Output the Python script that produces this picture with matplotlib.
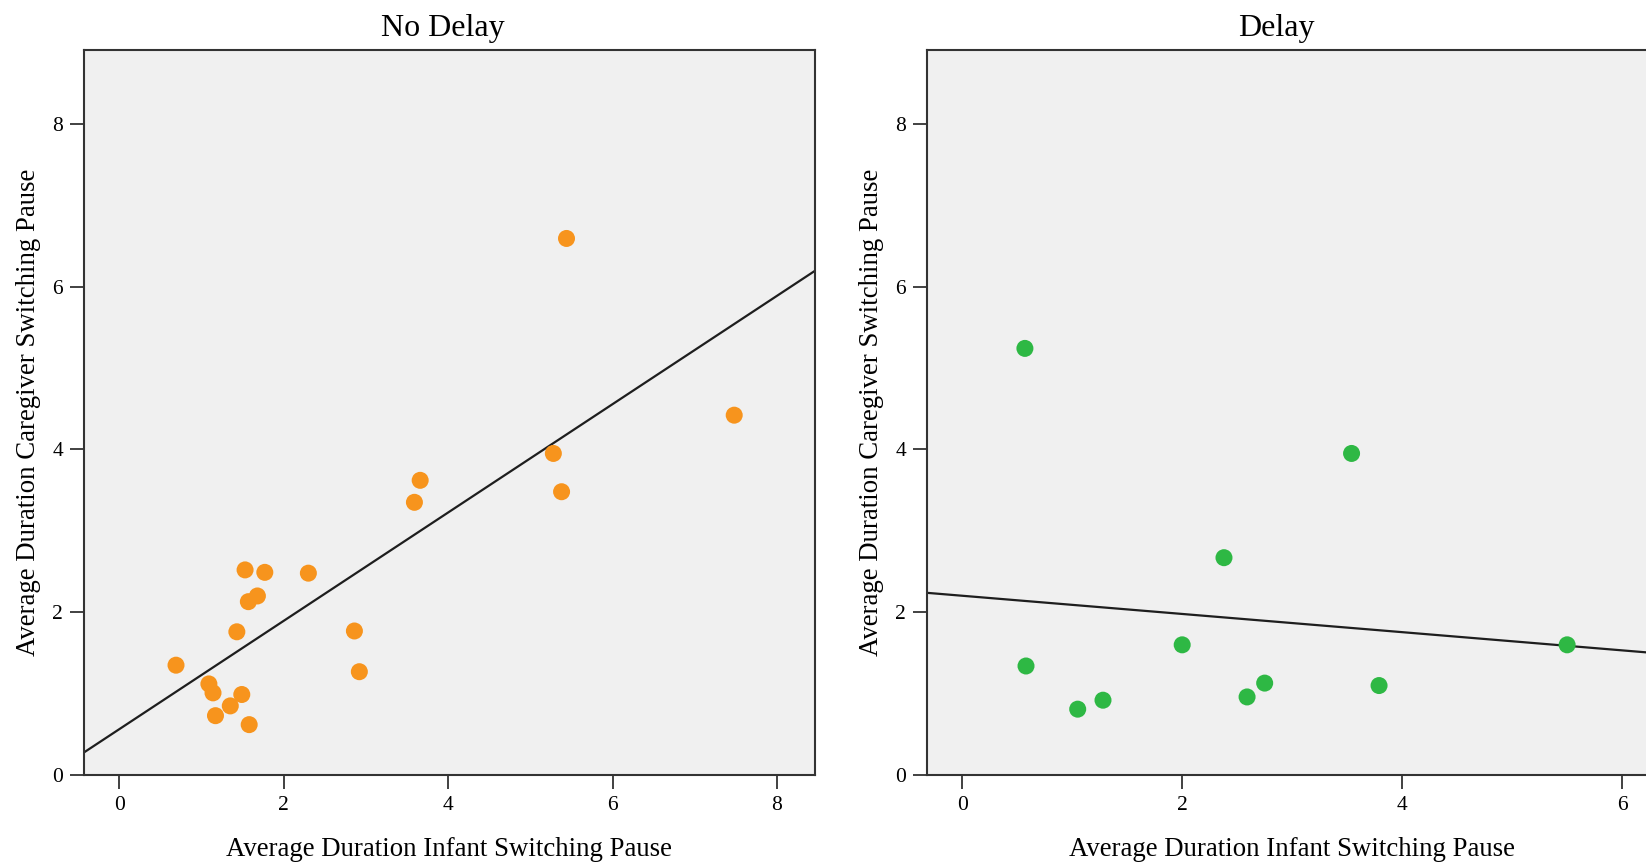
import numpy as np
import matplotlib
matplotlib.use("Agg")
import matplotlib.pyplot as plt

# data
no_delay_x = [0.69, 1.09, 1.14, 1.17, 1.35, 1.49, 1.58, 1.43, 1.53, 1.57, 1.68,
              1.77, 2.30, 2.86, 2.92, 3.59, 3.66, 5.28, 5.38, 5.44, 7.48]
no_delay_y = [1.35, 1.12, 1.01, 0.73, 0.85, 0.99, 0.62, 1.76, 2.52, 2.13, 2.20,
              2.49, 2.48, 1.77, 1.27, 3.35, 3.62, 3.95, 3.48, 6.59, 4.42]

delay_x = [0.57, 0.58, 1.05, 1.28, 2.00, 2.38, 2.59, 2.75, 3.54, 3.79, 5.50]
delay_y = [5.24, 1.34, 0.81, 0.92, 1.60, 2.67, 0.96, 1.13, 3.95, 1.10, 1.60]

titles = ["No Delay", "Delay"]
x_label = "Average Duration Infant Switching Pause"
y_label = "Average Duration Caregiver Switching Pause"
y_ticks = [0, 2, 4, 6, 8]

plt.rcParams['font.family'] = ['Liberation Serif', 'DejaVu Serif']

fig = plt.figure(figsize=(16.46, 8.68), dpi=100)
ax1 = fig.add_axes([0.051, 0.107, 0.444, 0.835])
ax2 = fig.add_axes([0.5632, 0.107, 0.4557, 0.835])


def draw_panel(ax, xs, ys, color, title, xlim, xticks, title_x, xlabel_x):
    ax.set_facecolor("#f0f0f0")
    ax.scatter(xs, ys, s=150, color=color, edgecolors="none", zorder=3)
    # linear fit across the whole x range
    slope, intercept = np.polyfit(xs, ys, 1)
    line_x = np.array(xlim)
    ax.plot(line_x, intercept + slope * line_x, color="#1e1e1e", lw=1.6, zorder=2)
    ax.set_xlim(*xlim)
    ax.set_ylim(0, 8.9)
    ax.set_xticks(xticks)
    ax.set_yticks(y_ticks)
    ax.tick_params(direction="out", length=10, width=1.3, color="#333333",
                   labelsize=15.5, pad=5)
    for sp in ax.spines.values():
        sp.set_color("#333333")
        sp.set_linewidth(1.5)
    ax.set_title(title, fontsize=23, pad=10, x=title_x)
    ax.set_xlabel(x_label, fontsize=19.3, labelpad=16, x=xlabel_x)
    ax.set_ylabel(y_label, fontsize=19.3, labelpad=8)


draw_panel(ax1, no_delay_x, no_delay_y, "#f7941d", titles[0], (-0.43, 8.46),
           [0, 2, 4, 6, 8], 0.491, 0.5)
draw_panel(ax2, delay_x, delay_y, "#2eb844", titles[1], (-0.32, 6.5),
           [0, 2, 4, 6], 0.465, 0.487)

fig.savefig("out.png", dpi=100)
